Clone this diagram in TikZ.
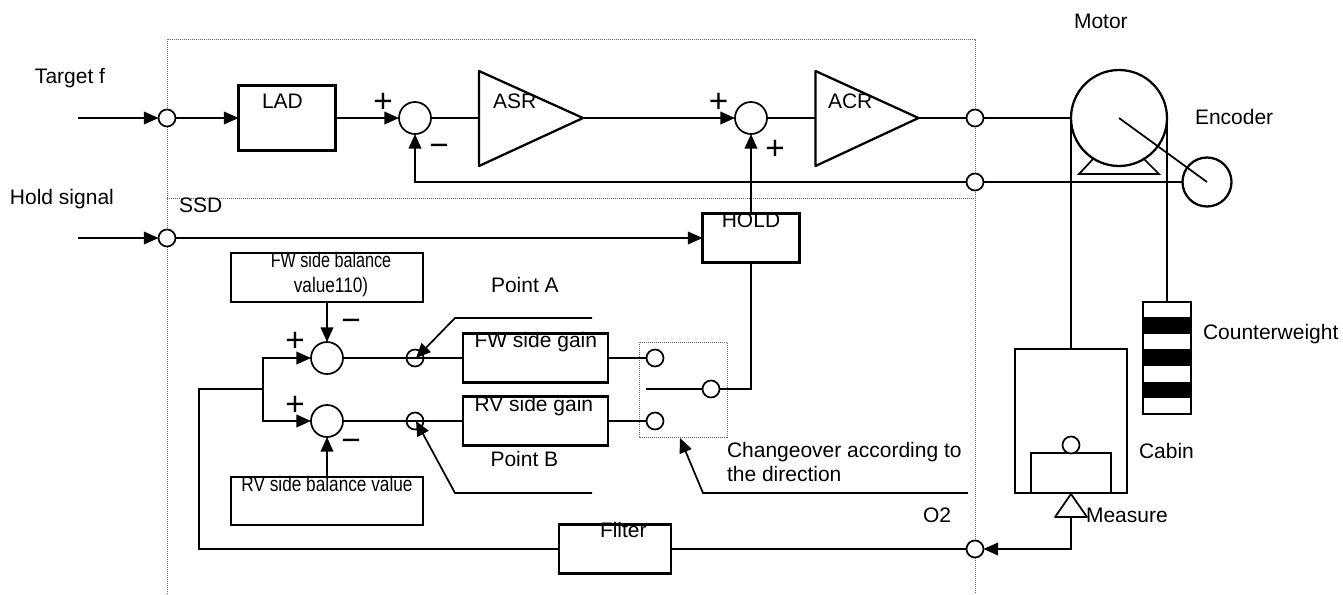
\documentclass[tikz,border=0pt]{standalone}
\usepackage{fontspec}
\setmainfont{Liberation Sans}
\usetikzlibrary{arrows.meta}
\tikzset{
  lbl/.style={inner sep=0pt,outer sep=0pt,anchor=base west,font=\fontsize{15.75}{18}\selectfont},
  clbl/.style={inner sep=0pt,outer sep=0pt,anchor=base,font=\fontsize{15.75}{18}\selectfont},
  sgn/.style={inner sep=0pt,outer sep=0pt,anchor=center,font=\fontsize{25}{28}\selectfont},
  blockbox/.style={draw,line width=1.7pt,fill=none,inner sep=0pt,outer sep=0pt},
  thinbox/.style={draw,line width=1.4pt,fill=none,inner sep=0pt,outer sep=0pt},
  wire/.style={line width=1.3pt},
  arrowed/.style={line width=1.3pt,-{Triangle[length=11pt,width=9.5pt]}},
  dots/.style={draw=black!60,line width=.6pt,dash pattern=on .75pt off .75pt},
  port/.style={circle,draw,line width=1.3pt,fill=white,inner sep=0pt,outer sep=0pt,minimum size=12.75pt},
  ring/.style={circle,draw,line width=1.3pt,inner sep=0pt,outer sep=0pt,minimum size=12.75pt},
  sumc/.style={circle,draw,line width=1.3pt,fill=white,inner sep=0pt,outer sep=0pt,minimum size=24pt},
}
\newcommand{\bx}[6][blockbox]{\node[#1,minimum width={(#5-#3)*0.75pt},minimum height={(#6-#4)*0.75pt}] (#2) at ({(#3+#5)/2},{(#4+#6)/2}) {};}
\begin{document}
\begin{tikzpicture}[x=.75pt,y=-.75pt]
\useasboundingbox (0,0) rectangle (1343,594);
% dotted frames
\coordinate (fa) at (167,39); \coordinate (fb) at (975,39);
\coordinate (fc) at (975,594); \coordinate (fd) at (167,594);
\coordinate (fe) at (167,198); \coordinate (ff) at (975,198);
\draw[dots] (fd) -- (fa) -- (fb) -- (fc);
\draw[dots] (fe) -- (ff);
\draw[dots] (639,342) rectangle (727,437);
% ports and summing points
\node[port] (pt) at (167,118) {};
\node[port] (ph) at (167,238) {};
\node[port] (pa) at (975,118) {};
\node[port] (pf) at (975,182) {};
\node[port] (pm) at (975,549) {};
\node[sumc] (s1) at (415,118) {};
\node[sumc] (s2) at (751,118) {};
\node[sumc] (sa) at (327,358) {};
\node[sumc] (sb) at (327,421) {};
\node[ring] (ra) at (415,358) {};
\node[ring] (rb) at (415,421) {};
\node[port] (swa) at (655,358) {};
\node[port] (swb) at (655,421) {};
\node[port] (swc) at (711,389) {};
% boxes
\bx{lad}{238.5}{85.5}{335.5}{150.5}
\bx{hold}{702.5}{213.5}{799.5}{262.5}
\bx{fwb}{231}{253}{423}{302}
\bx{rvb}{231}{477}{423}{525}
\bx{fwg}{463}{333.5}{608}{382.5}
\bx{rvg}{463}{396.5}{608}{445.5}
\bx{fil}{559}{524.5}{671}{573.5}
% amplifiers
\coordinate (asri) at (479,118); \coordinate (asro) at (583,118);
\coordinate (acri) at (815.5,118); \coordinate (acro) at (918.5,118);
\draw[line width=1.7pt,line join=round] (asri |- 0,71) -- (asro) -- (asri |- 0,166) -- cycle;
\draw[line width=1.7pt,line join=round] (acri |- 0,71) -- (acro) -- (acri |- 0,166) -- cycle;
% motor, encoder, load
\node[circle,draw,line width=1.7pt,fill=white,inner sep=0pt,outer sep=0pt,minimum size=72pt] (motor) at (1119,118) {};
\node[circle,draw,line width=1.7pt,inner sep=0pt,outer sep=0pt,minimum size=36.75pt] (enc) at (1207,182) {};
\draw[wire] (1094,158) -- (1079,174) -- (1159,174) -- (1143,158);
\bx[thinbox]{cabin}{1015}{349}{1127}{493}
\bx[thinbox]{inner}{1031}{453}{1111}{493}
\node[ring,fill=white] (head) at (1071,445) {};
\bx[thinbox]{cw}{1143}{302}{1191}{414}
\fill (1143,317) rectangle (1191,334);
\fill (1143,349) rectangle (1191,366);
\fill (1143,382) rectangle (1191,398);
\coordinate (mtop) at (1071,494); \coordinate (mbase) at (1071,517);
\draw[wire,line join=round] (mtop) -- (1087,517) -- (1055,517) -- cycle;
% connectors
\coordinate (in1) at (78,118); \coordinate (in2) at (78,238);
\draw[arrowed] (in1) -- (pt);
\draw[arrowed] (in2) -- (ph);
\draw[arrowed] (pt) -- (lad);
\draw[arrowed] (lad) -- (s1);
\draw[wire] (s1) -- (asri);
\draw[arrowed] (asro) -- (s2);
\draw[wire] (s2) -- (acri);
\draw[wire] (acro) -- (pa);
\draw[wire] (pa) -- (motor.west);
\draw[wire] (motor.center) -- (enc.center);
\draw[wire] (pf) -- (enc.west);
\draw[arrowed] (pf) -| (s1.south);
\draw[arrowed] (ph) -- (hold.west);
\draw[arrowed] (hold.north) -- (s2.south);
\draw[wire] (hold.south) |- (swc.east);
\draw[wire] (motor.west) -- (cabin.north);
\draw[wire] (motor.east) -- (cw.north);
\draw[arrowed] (fwb.south -| sa) -- (sa.north);
\draw[arrowed] (rvb.north -| sb) -- (sb.south);
\coordinate (br) at (263,389);
\coordinate (fbk) at (199,389);
\draw[arrowed] (br) |- (sa.west);
\draw[arrowed] (br) |- (sb.west);
\draw[wire] (br) -- (fbk) |- (fil.west);
\draw[wire] (sa) -- (fwg.west);
\draw[wire] (sb) -- (rvg.west);
\draw[wire] (fwg.east) -- (swa);
\draw[wire] (rvg.east) -- (swb);
\coordinate (swf) at (646,389);
\draw[wire] (swf) -- (swc);
\draw[wire] (fil.east) -- (pm);
\draw[arrowed] (mbase) |- (pm);
\coordinate (la1) at (592,318); \coordinate (la2) at (455,318); \coordinate (la3) at (416,358);
\coordinate (lb1) at (592,493); \coordinate (lb2) at (455,493); \coordinate (lb3) at (416,421);
\coordinate (lc1) at (968,493); \coordinate (lc2) at (703,493); \coordinate (lc3) at (680,438);
\draw[arrowed] (la1) -- (la2) -- (la3);
\draw[arrowed] (lb1) -- (lb2) -- (lb3);
\draw[arrowed] (lc1) -- (lc2) -- (lc3);
% labels
\node[lbl] (t1) at (35,83) {Target f};
\node[lbl] (t2) at (10,204) {Hold signal};
\node[lbl] (t3) at (179,212) {SSD};
\node[lbl] (t4) at (262,108) {LAD};
\node[lbl] (t5) at (493,108) {ASR};
\node[lbl] (t6) at (828,108) {ACR};
\node[lbl] (t7) at (1074,28) {Motor};
\node[lbl] (t8) at (1195,124) {Encoder};
\node[clbl] (t9) at (751,227) {HOLD};
\node[clbl] (t10) at (331,267) {\scalebox{.77}[1]{FW side balance}};
\node[clbl] (t11) at (331,292) {\scalebox{.82}[1]{value110)}};
\node[lbl] (t12) at (491,292) {Point A};
\node[lbl] (t13) at (474.5,347) {FW side gain};
\node[lbl] (t14) at (474.5,411) {RV side gain};
\node[lbl] (t15) at (490.5,466) {Point B};
\node[clbl] (t16) at (327,491) {\scalebox{.82}[1]{RV side balance value}};
\node[lbl] (t17) at (600,537) {Filter};
\node[lbl] (t18) at (727,457) {Changeover according to};
\node[lbl] (t19) at (727,481) {the direction};
\node[lbl] (t20) at (923,522) {O2};
\node[lbl] (t21) at (1086,522) {Measure};
\node[lbl] (t22) at (1139,458) {Cabin};
\node[lbl] (t23) at (1203,339) {Counterweight};
% signs
\node[sgn] (g1) at (383,103) {+};
\node[sgn] (g2) at (439,150) {−};
\node[sgn] (g3) at (718.5,103) {+};
\node[sgn] (g4) at (775,150) {+};
\node[sgn] (g5) at (295,342) {+};
\node[sgn] (g6) at (351,325) {−};
\node[sgn] (g7) at (295,406) {+};
\node[sgn] (g8) at (351,445) {−};
\end{tikzpicture}
\end{document}
